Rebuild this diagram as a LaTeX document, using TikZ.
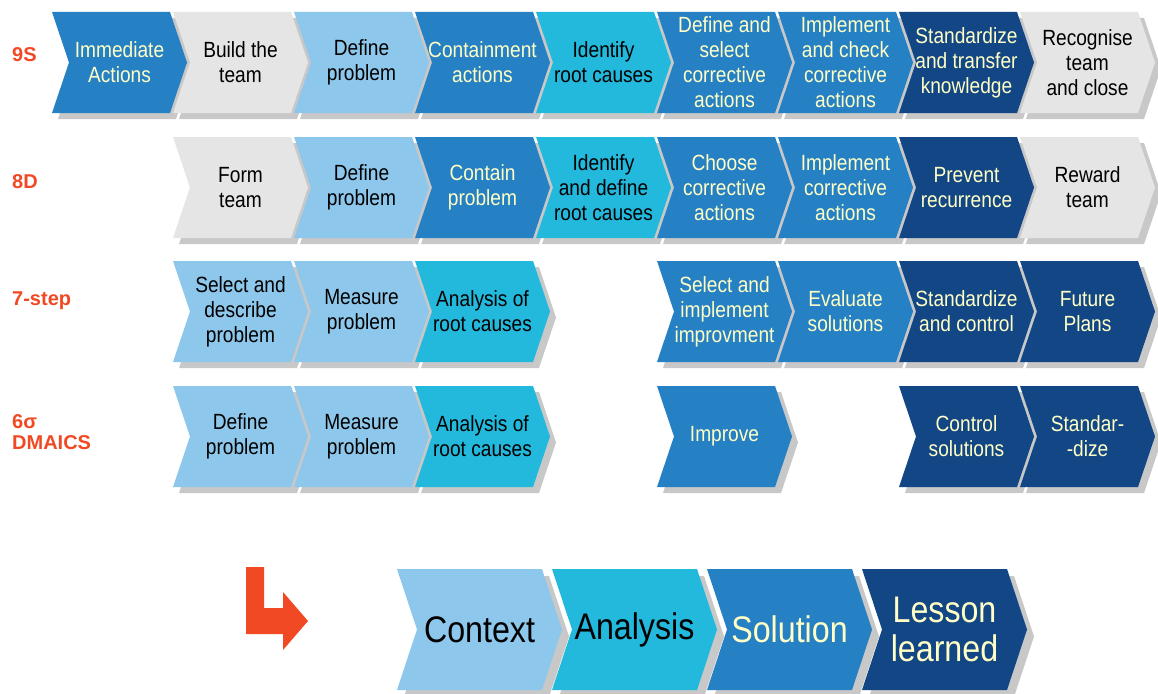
\documentclass[tikz,border=0pt]{standalone}
\usepackage{fontspec}
\usepackage{tikz}
\setmainfont{Liberation Sans}[FakeStretch=0.87]
\newfontfamily\lblfont{Liberation Sans}

\definecolor{cMid}{HTML}{2580C4}
\definecolor{cGrey}{HTML}{E5E5E5}
\definecolor{cLight}{HTML}{8EC7EC}
\definecolor{cCyan}{HTML}{22B9DD}
\definecolor{cDark}{HTML}{124685}
\definecolor{cCream}{HTML}{FFFFC6}
\definecolor{cShadow}{HTML}{C8C8C8}
\definecolor{cOrange}{HTML}{F04923}

\tikzset{
	cmid/.style={fill=cMid,text=cCream},
	cgrey/.style={fill=cGrey,text=black},
	clight/.style={fill=cLight,text=black},
	ccyan/.style={fill=cCyan,text=black},
	cdark/.style={fill=cDark,text=cCream},
	chevshadow/.style={fill=cShadow},
	chevtext/.style={align=center,inner sep=0pt,font=\fontsize{22}{25}\selectfont},
	bigtext/.style={font=\fontsize{37}{39}\selectfont},
	rowlabel/.style={anchor=base west,inner sep=0pt,text=cOrange,font=\lblfont\bfseries\fontsize{20}{21}\selectfont}
}

% chevron sizes (width, point, height, shadow)
\def\chw{118}\def\chd{17}\def\chh{101}\def\chs{6}
% chevron: #1 name, #2 left, #3 top, #4 colour style, #5 text
\newcommand{\chev}[5]{%
	\fill[chevshadow] (#2+\chs,#3+\chs) -- ++(\chw,0) -- ++(\chd,0.5*\chh) -- ++(-\chd,0.5*\chh) -- ++(-\chw,0) -- ++(\chd,-0.5*\chh) -- cycle;
	\fill[#4] (#2,#3) -- ++(\chw,0) -- ++(\chd,0.5*\chh) -- ++(-\chd,0.5*\chh) -- ++(-\chw,0) -- ++(\chd,-0.5*\chh) -- cycle;
	\node[chevtext,#4,fill=none] (#1) at (#2+0.5*\chw+0.5*\chd,#3+0.5*\chh) {#5};
}

\begin{document}
\begin{tikzpicture}[x=1pt,y=-1pt]
	\useasboundingbox[fill=white] (0,0) rectangle (1158,693);
	
	%labels
	\node[rowlabel] (lnine)  at (12,62)  {9S};
	\node[rowlabel] (leight) at (12,188) {8D};
	\node[rowlabel] (lseven) at (12,305) {7-step};
	\node[rowlabel,align=left,anchor=west] (lsix) at (12,432) {6σ\\DMAICS};
	
	%9S
	\chev{ninea}{52}{12}{cmid}{Immediate\\Actions}
	\chev{nineb}{173}{12}{cgrey}{Build the\\team}
	\chev{ninec}{294}{12}{clight}{Define\\problem}
	\chev{nined}{415}{12}{cmid}{Containment\\actions}
	\chev{ninee}{536}{12}{ccyan}{Identify\\root causes}
	\chev{ninef}{657}{12}{cmid}{Define and\\select\\corrective\\actions}
	\chev{nineg}{778}{12}{cmid}{Implement\\and check\\corrective\\actions}
	\chev{nineh}{899}{12}{cdark}{Standardize\\and transfer\\knowledge}
	\chev{ninei}{1020}{12}{cgrey}{Recognise\\team\\and close}
	
	%8D
	\chev{eighta}{173}{137}{cgrey}{Form\\team}
	\chev{eightb}{294}{137}{clight}{Define\\problem}
	\chev{eightc}{415}{137}{cmid}{Contain\\problem}
	\chev{eightd}{536}{137}{ccyan}{Identify\\and define\\root causes}
	\chev{eighte}{657}{137}{cmid}{Choose\\corrective\\actions}
	\chev{eightf}{778}{137}{cmid}{Implement\\corrective\\actions}
	\chev{eightg}{899}{137}{cdark}{Prevent\\recurrence}
	\chev{eighth}{1020}{137}{cgrey}{Reward\\team}
	
	%7-step
	\chev{sevena}{173}{261}{clight}{Select and\\describe\\problem}
	\chev{sevenb}{294}{261}{clight}{Measure\\problem}
	\chev{sevenc}{415}{261}{ccyan}{Analysis of\\root causes}
	\chev{sevend}{657}{261}{cmid}{Select and\\implement\\improvment}
	\chev{sevene}{778}{261}{cmid}{Evaluate\\solutions}
	\chev{sevenf}{899}{261}{cdark}{Standardize\\and control}
	\chev{seveng}{1020}{261}{cdark}{Future\\Plans}
	
	%6 sigma
	\chev{sixa}{173}{386}{clight}{Define\\problem}
	\chev{sixb}{294}{386}{clight}{Measure\\problem}
	\chev{sixc}{415}{386}{ccyan}{Analysis of\\root causes}
	\chev{sixd}{657}{386}{cmid}{Improve}
	\chev{sixe}{899}{386}{cdark}{Control\\solutions}
	\chev{sixf}{1020}{386}{cdark}{Standar-\\-dize}
	
	%bent arrow
	\fill[cOrange] (246,567) -- (264,567) -- (264,608) -- (283,608) -- (283,592) -- (308,621) -- (283,650) -- (283,634) -- (246,634) -- cycle;
	
	%summary
	\def\chw{145}\def\chd{20}\def\chh{121}\def\chs{7}
	\chev{context}{397}{569}{clight,bigtext}{Context}
	\chev{analysis}{552}{569}{ccyan,bigtext}{Analysis}
	\chev{solution}{707}{569}{cmid,bigtext}{Solution}
	\chev{lesson}{862}{569}{cdark,bigtext}{Lesson\\learned}
	%\draw[help lines,step=50] (0,0) grid (1158,693);
\end{tikzpicture}
\end{document}
